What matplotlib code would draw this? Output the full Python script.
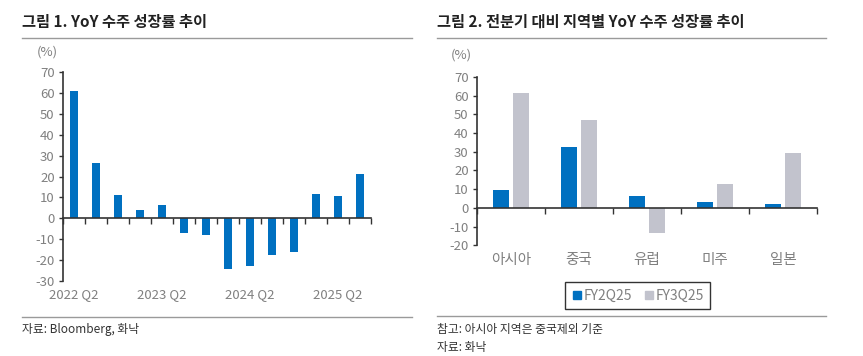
import numpy as np
import matplotlib
matplotlib.use('Agg')
import matplotlib.pyplot as plt
from matplotlib.lines import Line2D
from matplotlib.transforms import blended_transform_factory

plt.rcParams['font.family'] = ['Noto Sans CJK KR', 'DejaVu Sans']
plt.rcParams['axes.unicode_minus'] = False

# ---- data ----
quarters = ['2022 Q2', '2022 Q3', '2022 Q4', '2023 Q1', '2023 Q2', '2023 Q3', '2023 Q4',
            '2024 Q1', '2024 Q2', '2024 Q3', '2024 Q4', '2025 Q1', '2025 Q2', '2025 Q3']
yoy = [61.0, 26.4, 11.1, 4.2, 6.4, -7.1, -8.2, -24.4, -22.7, -17.6, -16.2, 11.6, 10.5, 21.1]
shown_quarters = ['2022 Q2', '2023 Q2', '2024 Q2', '2025 Q2']

regions = ['아시아', '중국', '유럽', '미주', '일본']
fy2q25 = [9.8, 32.5, 6.4, 3.4, 2.3]
fy3q25 = [61.7, 47.2, -13.2, 12.8, 29.2]
series_names = ['FY2Q25', 'FY3Q25']

BLUE = '#0070C0'
GREY = '#C2C3CD'
TXT = '#808080'
RULE = '#9a9a9a'

W, H = 863, 356
fig = plt.figure(figsize=(W / 100, H / 100), dpi=100)

def fx(px):
    return px / W

def fy(py):
    return 1 - py / H

def style_axes(ax):
    for s in ['top', 'right']:
        ax.spines[s].set_visible(False)
    ax.spines['left'].set_color('#333333')
    ax.spines['left'].set_linewidth(1.2)
    ax.spines['bottom'].set_position(('data', 0))
    ax.spines['bottom'].set_color('#333333')
    ax.spines['bottom'].set_linewidth(1.2)
    ax.tick_params(axis='y', direction='out', length=3, width=1, color='#333333',
                   labelsize=9.5, labelcolor=TXT, pad=3)
    ax.tick_params(axis='x', direction='out', length=4, width=1, color='#333333',
                   labelbottom=False)

# ---- left chart ----
ax1 = fig.add_axes([fx(63), fy(281), fx(371 - 63), (281 - 72) / H])
x1 = np.arange(len(quarters))
ax1.bar(x1, yoy, width=0.32, color=BLUE, zorder=2)
ax1.set_xlim(-0.5, len(quarters) - 0.5)
ax1.set_ylim(-30, 70)
ax1.set_yticks(np.arange(-30, 71, 10))
ax1.set_xticks(np.arange(-0.5, len(quarters), 1.0))
style_axes(ax1)
tr1 = blended_transform_factory(ax1.transData, ax1.transAxes)
for q in shown_quarters:
    i = quarters.index(q)
    ax1.text(i, -0.035, q, transform=tr1, ha='center', va='top', fontsize=9.5, color=TXT)

# ---- right chart ----
ax2 = fig.add_axes([fx(477), fy(245.3), fx(817 - 477), (245.3 - 77) / H])
x2 = np.arange(len(regions))
ax2.bar(x2 - 0.145, fy2q25, width=0.235, color=BLUE, zorder=2)
ax2.bar(x2 + 0.145, fy3q25, width=0.235, color=GREY, zorder=2)
ax2.set_xlim(-0.5, len(regions) - 0.5)
ax2.set_ylim(-20, 70)
ax2.set_yticks(np.arange(-20, 71, 10))
ax2.set_xticks(np.arange(-0.5, len(regions), 1.0))
style_axes(ax2)
tr2 = blended_transform_factory(ax2.transData, ax2.transAxes)
for i, r in enumerate(regions):
    ax2.text(i, -0.045, r, transform=tr2, ha='center', va='top', fontsize=10.5, color=TXT)

handles = [Line2D([], [], marker='s', linestyle='none', markersize=6, color=c)
           for c in [BLUE, GREY]]
leg = fig.legend(handles, series_names, loc='center', bbox_to_anchor=(fx(637.5), fy(295.5)),
                 ncol=2, frameon=True, fancybox=False, fontsize=10, handletextpad=0.1,
                 columnspacing=0.8, borderpad=0.45, handlelength=0.8)
leg.get_frame().set_edgecolor('black')
leg.get_frame().set_linewidth(1)
for t in leg.get_texts():
    t.set_color(TXT)

# ---- titles, units, rules, notes ----
fig.text(fx(22), fy(22), '그림 1. YoY 수주 성장률 추이', fontsize=11, fontweight='bold',
         color='#222222', va='center', ha='left')
fig.text(fx(437), fy(22), '그림 2. 전분기 대비 지역별 YoY 수주 성장률 추이', fontsize=11,
         fontweight='bold', color='#222222', va='center', ha='left')
fig.text(fx(47), fy(52), '(%)', fontsize=9.5, color=TXT, ha='center', va='center')
fig.text(fx(461), fy(55), '(%)', fontsize=9.5, color=TXT, ha='center', va='center')

for (a, b, y) in [(22, 412, 38), (22, 412, 317), (437, 826, 38), (437, 826, 316)]:
    fig.add_artist(Line2D([fx(a), fx(b)], [fy(y), fy(y)], color=RULE, lw=1))

fig.text(fx(22), fy(330), '자료: Bloomberg, 화낙', fontsize=8.5, color='#333333', va='center')
fig.text(fx(437), fy(329), '참고: 아시아 지역은 중국제외 기준', fontsize=8.5, color='#333333',
         va='center')
fig.text(fx(437), fy(348), '자료: 화낙', fontsize=8.5, color='#333333', va='center')

fig.savefig('out.png', dpi=100)
